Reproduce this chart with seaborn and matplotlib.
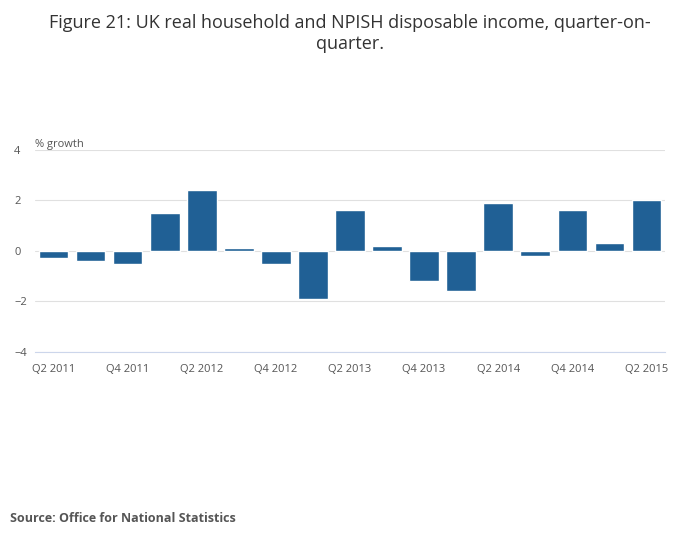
import matplotlib
matplotlib.use("Agg")
import matplotlib.pyplot as plt
import seaborn as sns
import pandas as pd

sns.set_style("white")
plt.rcParams["font.family"] = ["Open Sans", "DejaVu Sans"]

QUARTERS = ["Q2 2011", "Q3 2011", "Q4 2011", "Q1 2012", "Q2 2012", "Q3 2012", "Q4 2012",
            "Q1 2013", "Q2 2013", "Q3 2013", "Q4 2013", "Q1 2014", "Q2 2014", "Q3 2014",
            "Q4 2014", "Q1 2015", "Q2 2015"]
GROWTH = [-0.3, -0.4, -0.5, 1.5, 2.4, 0.1, -0.5, -1.9, 1.6, 0.2, -1.2, -1.6, 1.9, -0.2,
          1.6, 0.3, 2.0]

df = pd.DataFrame({"quarter": QUARTERS, "growth": GROWTH})

fig = plt.figure(figsize=(7, 5.49), dpi=100)
ax = fig.add_axes([0.05, 0.359, 0.9, 0.368])
sns.barplot(data=df, x="quarter", y="growth", color="#206095", saturation=1, width=0.8, ax=ax)

ax.set_ylim(-4, 4)
ax.set_yticks([-4, -2, 0, 2, 4])
ax.set_xlim(-0.5, len(QUARTERS) - 0.5)
ax.set_xticks(range(0, len(QUARTERS), 2))
ax.set_xticklabels(QUARTERS[::2])
ax.grid(axis="y", color="#e0e0e0", linewidth=0.8)
ax.set_axisbelow(True)
for s in ["top", "right", "left"]:
    ax.spines[s].set_visible(False)
ax.spines["bottom"].set_color("#ccd6eb")
ax.tick_params(axis="x", length=5, color="#ccd6eb", labelsize=8, labelcolor="#555555")
ax.tick_params(axis="y", length=0, labelsize=8, labelcolor="#555555", pad=15)
for t in ax.get_yticklabels():
    t.set_horizontalalignment("left")
ax.set_xlabel("")
ax.set_ylabel("")
ax.text(0.0, 1.0, "% growth", transform=ax.transAxes, fontsize=8, color="#555555",
        va="bottom", ha="left")

fig.text(0.5, 0.975, "Figure 21: UK real household and NPISH disposable income, quarter-on-\nquarter.",
         ha="center", va="top", fontsize=13, color="#333333")
fig.text(0.015, 0.05, "Source: Office for National Statistics", fontsize=9, fontweight="bold",
         color="#555555", ha="left")

fig.savefig("out.png", dpi=100)
